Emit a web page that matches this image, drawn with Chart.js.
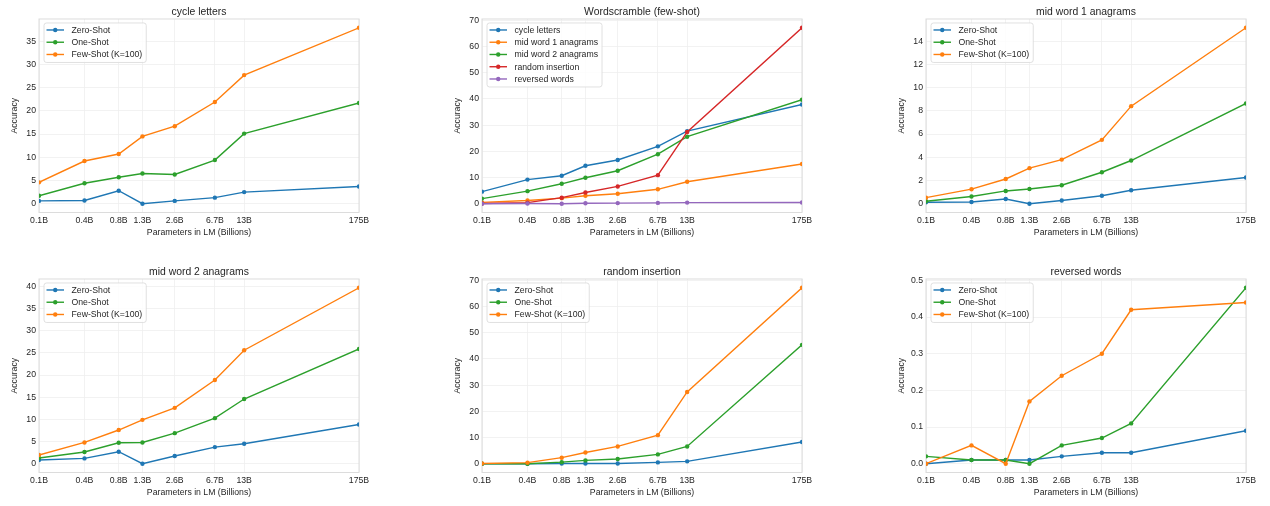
<!DOCTYPE html>
<html><head><meta charset="utf-8">
<script src="https://cdn.jsdelivr.net/npm/chart.js@4.4.1/dist/chart.umd.min.js"></script>
<style>
html,body{margin:0;padding:0;background:#fff;width:1270px;height:506px;overflow:hidden;position:relative;}
.cell{position:absolute;}
canvas{display:block;}
</style></head><body>
<script>
// ---- data ----
const params = [0.125, 0.35, 0.76, 1.3, 2.7, 6.7, 13, 175];
const xTickLabels = ['0.1B', '0.4B', '0.8B', '1.3B', '2.6B', '6.7B', '13B', '175B'];
const shotLabels = ['Zero-Shot', 'One-Shot', 'Few-Shot (K=100)'];
const taskLabels = ['cycle letters', 'mid word 1 anagrams', 'mid word 2 anagrams', 'random insertion', 'reversed words'];

const cycleZero = [0.6, 0.7, 2.8, 0.0, 0.6, 1.3, 2.5, 3.7];
const cycleOne  = [1.7, 4.4, 5.7, 6.5, 6.3, 9.4, 15.1, 21.7];
const cycleFew  = [4.6, 9.2, 10.7, 14.5, 16.7, 21.9, 27.7, 37.9];

const mw1Zero = [0.12, 0.15, 0.40, 0.0, 0.27, 0.68, 1.16, 2.26];
const mw1One  = [0.21, 0.62, 1.10, 1.27, 1.59, 2.71, 3.72, 8.63];
const mw1Few  = [0.52, 1.25, 2.13, 3.06, 3.80, 5.50, 8.40, 15.15];

const mw2Zero = [0.83, 1.2, 2.7, 0.0, 1.73, 3.75, 4.5, 8.86];
const mw2One  = [1.28, 2.63, 4.73, 4.8, 6.9, 10.28, 14.6, 25.9];
const mw2Few  = [1.95, 4.8, 7.6, 9.9, 12.6, 18.9, 25.6, 39.7];

const riZero = [0.0, 0.0, 0.1, 0.1, 0.05, 0.5, 0.9, 8.3];
const riOne  = [0.0, 0.0, 0.6, 1.27, 1.8, 3.56, 6.6, 45.4];
const riFew  = [0.1, 0.4, 2.3, 4.3, 6.6, 10.9, 27.4, 67.2];

const rwZero = [0.00, 0.01, 0.01, 0.01, 0.02, 0.03, 0.03, 0.09];
const rwOne  = [0.02, 0.01, 0.01, 0.00, 0.05, 0.07, 0.11, 0.48];
const rwFew  = [0.00, 0.05, 0.00, 0.17, 0.24, 0.30, 0.42, 0.44];

const yTicksCycle = [0, 5, 10, 15, 20, 25, 30, 35];
const yTicksScramble = [0, 10, 20, 30, 40, 50, 60, 70];
const yTicksMw1 = [0, 2, 4, 6, 8, 10, 12, 14];
const yTicksMw2 = [0, 5, 10, 15, 20, 25, 30, 35, 40];
const yTicksRi = [0, 10, 20, 30, 40, 50, 60, 70];
const yTicksRw = [0.0, 0.1, 0.2, 0.3, 0.4, 0.5];

// ---- style ----
const tab = ['#1f77b4', '#ff7f0e', '#2ca02c', '#d62728', '#9467bd'];
const shotColors = [tab[0], tab[2], tab[1]];
const FONT = "'Liberation Sans', Arial, sans-serif";
const TXT = '#262626';

const panels = [
  {title: 'cycle letters', labels: shotLabels, series: [cycleZero, cycleOne, cycleFew], colors: shotColors, yTicks: yTicksCycle, dec: 0, L: 38.7, T: 19.3},
  {title: 'Wordscramble (few-shot)', labels: taskLabels, series: [cycleFew, mw1Few, mw2Few, riFew, rwFew], colors: tab, yTicks: yTicksScramble, dec: 0, L: 482, T: 19.3},
  {title: 'mid word 1 anagrams', labels: shotLabels, series: [mw1Zero, mw1One, mw1Few], colors: shotColors, yTicks: yTicksMw1, dec: 0, L: 926.3, T: 19.3},
  {title: 'mid word 2 anagrams', labels: shotLabels, series: [mw2Zero, mw2One, mw2Few], colors: shotColors, yTicks: yTicksMw2, dec: 0, L: 38.7, T: 279.2},
  {title: 'random insertion', labels: shotLabels, series: [riZero, riOne, riFew], colors: shotColors, yTicks: yTicksRi, dec: 0, L: 482, T: 279.2},
  {title: 'reversed words', labels: shotLabels, series: [rwZero, rwOne, rwFew], colors: shotColors, yTicks: yTicksRw, dec: 1, L: 926.3, T: 279.2}
];

const frameAndLegend = {
  id: 'frameAndLegend',
  beforeDatasetsDraw(chart) {
    const a = chart.chartArea, ctx = chart.ctx;
    ctx.save();
    ctx.strokeStyle = '#dcdcdc';
    ctx.lineWidth = 1;
    ctx.strokeRect(a.left, a.top, a.right - a.left, a.bottom - a.top);
    ctx.restore();
  },
  afterDraw(chart) {
    const a = chart.chartArea, ctx = chart.ctx;
    const ds = chart.data.datasets;
    ctx.save();
    ctx.font = '8.7px ' + FONT;
    let maxW = 0;
    ds.forEach(d => { maxW = Math.max(maxW, ctx.measureText(d.label).width); });
    const x = a.left + 5, y = a.top + 4;
    const w = maxW + 27.5 + 4, h = 15 + (ds.length - 1) * 12.25;
    ctx.beginPath();
    ctx.roundRect(x, y, w, h, 2.5);
    ctx.fillStyle = 'rgba(255,255,255,0.85)';
    ctx.fill();
    ctx.strokeStyle = '#d8d8d8';
    ctx.lineWidth = 0.8;
    ctx.stroke();
    ds.forEach((d, i) => {
      const cy = y + 7 + i * 12.25;
      ctx.strokeStyle = d.borderColor;
      ctx.lineWidth = 1.4;
      ctx.beginPath(); ctx.moveTo(x + 2.5, cy); ctx.lineTo(x + 20, cy); ctx.stroke();
      ctx.fillStyle = d.borderColor;
      ctx.beginPath(); ctx.arc(x + 11.25, cy, 2.2, 0, Math.PI * 2); ctx.fill();
      ctx.fillStyle = TXT;
      ctx.textBaseline = 'middle';
      ctx.textAlign = 'left';
      ctx.fillText(d.label, x + 27.5, cy + 0.5);
    });
    ctx.restore();
  }
};

panels.forEach((p, idx) => {
  const div = document.createElement('div');
  div.className = 'cell';
  div.style.left = (p.L - 40) + 'px';
  div.style.top = (p.T - 22) + 'px';
  const cv = document.createElement('canvas');
  cv.width = 374; cv.height = 246;
  cv.style.width = '374px'; cv.style.height = '246px';
  div.appendChild(cv);
  document.body.appendChild(div);

  const all = p.series.flat();
  const lo = Math.min(...all), hi = Math.max(...all);
  const pad = 0.05 * (hi - lo);

  const n = p.series.length;
  const datasets = p.series.map((vals, i) => ({
    label: p.labels[i],
    data: vals.map((v, j) => ({x: params[j], y: v})),
    borderColor: p.colors[i],
    backgroundColor: p.colors[i],
    borderWidth: 1.4,
    pointRadius: 2.2,
    pointBorderWidth: 0,
    pointHoverRadius: 2.2,
    tension: 0,
    order: n - i
  }));

  new Chart(cv, {
    type: 'line',
    data: {datasets},
    plugins: [frameAndLegend],
    options: {
      responsive: false,
      animation: false,
      events: [],
      layout: {padding: {left: 0, right: 14, top: 0, bottom: 0}},
      plugins: {
        legend: {display: false},
        tooltip: {enabled: false},
        title: {
          display: true, text: p.title, color: TXT, fullSize: false,
          font: {family: FONT, size: 10.4, weight: 'normal', lineHeight: 1.2},
          padding: {top: 8.5, bottom: 1}
        }
      },
      scales: {
        x: {
          type: 'logarithmic',
          min: params[0], max: params[params.length - 1],
          afterBuildTicks: s => { s.ticks = params.map(v => ({value: v})); },
          afterFit: s => { s.height = 30.5; },
          ticks: {
            autoSkip: false, maxRotation: 0, minRotation: 0, padding: 3,
            color: TXT, font: {family: FONT, size: 8.7},
            callback: (v, i) => xTickLabels[i]
          },
          grid: {color: '#efefef', lineWidth: 0.8, drawTicks: false},
          border: {display: false},
          title: {display: true, text: 'Parameters in LM (Billions)', color: TXT,
                  font: {family: FONT, size: 8.7, lineHeight: 1.2}, padding: {top: 0, bottom: 5}}
        },
        y: {
          type: 'linear',
          min: lo - pad, max: hi + pad,
          afterBuildTicks: s => { s.ticks = p.yTicks.map(v => ({value: v})); },
          afterFit: s => { s.width = 40; },
          ticks: {
            padding: 3, color: TXT, font: {family: FONT, size: 8.7},
            callback: v => Number(v).toFixed(p.dec)
          },
          grid: {color: '#efefef', lineWidth: 0.8, drawTicks: false},
          border: {display: false},
          title: {display: true, text: 'Accuracy', color: TXT,
                  font: {family: FONT, size: 8.7, lineHeight: 1.2}, padding: {top: 10.8, bottom: 0}}
        }
      }
    }
  });
});
</script>
</body></html>
